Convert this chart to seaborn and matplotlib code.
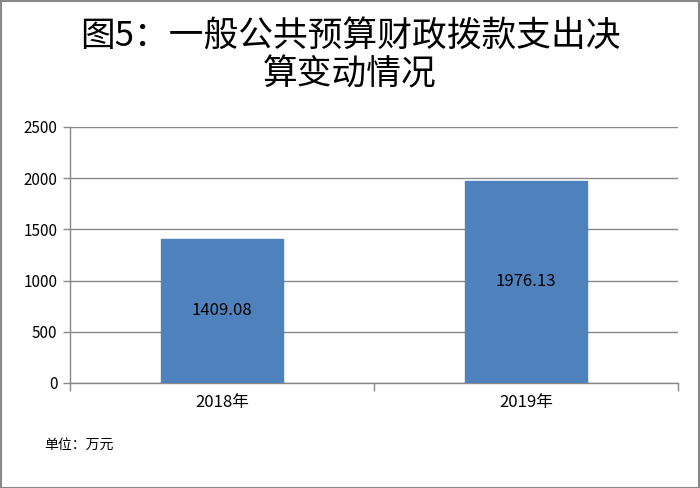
import matplotlib
matplotlib.use("Agg")
import matplotlib.pyplot as plt
import seaborn as sns
import pandas as pd
from matplotlib.patches import Rectangle

# data
years = ['2018年', '2019年']
values = [1409.08, 1976.13]
y_ticks = [0, 500, 1000, 1500, 2000, 2500]

df = pd.DataFrame({'year': years, 'value': values})

sns.set_style('white')
plt.rcParams['font.family'] = ['Noto Sans CJK SC', 'DejaVu Sans']
plt.rcParams['text.color'] = 'black'
plt.rcParams['xtick.color'] = 'black'
plt.rcParams['ytick.color'] = 'black'

fig = plt.figure(figsize=(7, 4.88), dpi=100)
ax = fig.add_axes([0.1, 0.2152, 0.8686, 0.5246])

sns.barplot(data=df, x='year', y='value', color='#4F81BD', saturation=1,
            width=0.4, ax=ax, zorder=3, edgecolor='#4F81BD')

ax.set_ylim(0, 2500)
ax.set_xlim(-0.5, 1.5)
ax.set_yticks(y_ticks)
ax.set_yticklabels([str(t) for t in y_ticks], fontsize=11)
ax.yaxis.grid(True, color='#888888', linewidth=1, zorder=0)
ax.set_axisbelow(True)

# category boundary ticks on x
ax.set_xticks([-0.5, 0.5, 1.5], minor=False)
ax.set_xticklabels(['', '', ''])
ax.set_xticks([0, 1], minor=True)
ax.set_xticklabels(years, minor=True, fontsize=12)
ax.tick_params(axis='x', which='major', length=6, color='#888888', width=1, direction='out', bottom=True)
ax.tick_params(axis='x', which='minor', length=0, pad=8)
ax.tick_params(axis='y', length=5, color='#888888', width=1, direction='out', left=True, pad=4)

for s in ['top', 'right']:
    ax.spines[s].set_visible(False)
for s in ['left', 'bottom']:
    ax.spines[s].set_color('#888888')
    ax.spines[s].set_linewidth(1)

ax.set_xlabel('')
ax.set_ylabel('')

for i, v in enumerate(values):
    ax.text(i, v / 2, f'{v:.2f}', ha='center', va='center', fontsize=12, color='black', zorder=4)

fig.text(0.5, 0.925, '图5：一般公共预算财政拨款支出决', ha='center', va='center',
         fontsize=25, fontweight='medium')
fig.text(0.5, 0.847, '算变动情况', ha='center', va='center', fontsize=25, fontweight='medium')
fig.text(0.063, 0.088, '单位：万元', ha='left', va='center', fontsize=10)

fig.patches.append(Rectangle((0.001, 0.001), 0.997, 0.997, transform=fig.transFigure,
                             fill=False, edgecolor='#888888', linewidth=1.5))

fig.savefig('out.png', dpi=100)
